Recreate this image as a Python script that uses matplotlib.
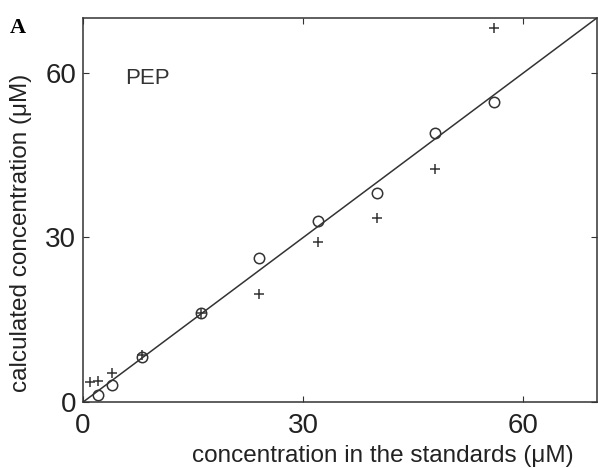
import matplotlib.pyplot as plt

# standards (uM) and calculated concentrations
x_circ = [2, 4, 8, 16, 24, 32, 40, 48, 56]
y_circ = [1.3, 3.1, 8.2, 16.2, 26.3, 33.0, 38.1, 49.1, 54.7]
x_plus = [1, 2, 4, 8, 16, 24, 32, 40, 48, 56]
y_plus = [3.6, 3.8, 5.3, 8.5, 16.3, 19.7, 29.2, 33.6, 42.5, 68.2]
line_x = [0, 70]
line_y = [0, 70]
ticks = [0, 30, 60]

plt.rcParams['font.family'] = ['Liberation Sans', 'DejaVu Sans']
col = '#333333'

fig = plt.figure(figsize=(5.98, 4.68), dpi=100)
ax = fig.add_axes([0.139, 0.141, 0.859, 0.8205])

ax.plot(line_x, line_y, color=col, lw=1.1)
ax.plot(x_circ, y_circ, 'o', mfc='none', mec=col, ms=7.5, mew=1.1)
ax.plot(x_plus, y_plus, '+', color=col, ms=7.5, mew=1.1)

ax.set_xlim(0, 70)
ax.set_ylim(0, 70)
ax.set_xticks(ticks)
ax.set_yticks(ticks)
ax.tick_params(direction='in', length=4, width=0.8, colors=col, labelcolor='#222222',
               labelsize=20, top=True, right=True)
ax.tick_params(axis='x', pad=8)
ax.tick_params(axis='y', pad=5)
for s in ax.spines.values():
    s.set_color(col)
    s.set_linewidth(1.1)

ax.set_xlabel('concentration in the standards (\u03bcM)', fontsize=17.5, color='#222222')
ax.set_ylabel('calculated concentration (\u03bcM)', fontsize=17.5, color='#222222')
ax.xaxis.set_label_coords(0.584, -0.112)
ax.yaxis.set_label_coords(-0.099, 0.44)

ax.text(8.8, 59, 'PEP', fontsize=16, color='#333333', ha='center', va='center')
fig.text(0.03, 0.94, 'A', fontsize=16, fontweight='bold', family='Liberation Serif',
         ha='center', va='center')

plt.savefig('out.png', dpi=100)
